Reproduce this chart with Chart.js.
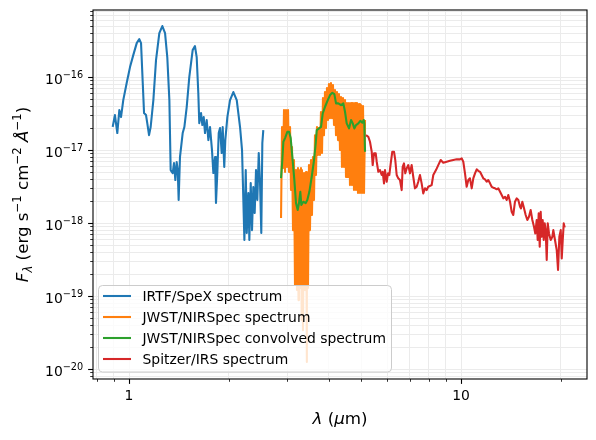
<!DOCTYPE html>
<html>
<head>
<meta charset="utf-8">
<script src="https://cdn.jsdelivr.net/npm/chart.js@4.4.1/dist/chart.umd.min.js"></script>
<style>
  html, body { margin: 0; padding: 0; background: #fff; }
  #wrap { width: 596px; height: 440px; }
</style>
</head>
<body>
<div id="wrap"><canvas id="spectrum" width="596" height="440"></canvas></div>
<script>
// IRTF/SpeX (micron, erg/s/cm2/A)
const spexWave = [
  0.893, 0.907, 0.922, 0.935, 0.946, 0.954, 0.961, 0.984, 1.007, 1.030,
  1.055, 1.074, 1.087, 1.100, 1.110, 1.125, 1.135, 1.149, 1.162, 1.184,
  1.206, 1.234, 1.260, 1.284, 1.304, 1.323, 1.335, 1.354, 1.366, 1.379,
  1.392, 1.402, 1.411, 1.424, 1.451, 1.468, 1.492, 1.519, 1.555, 1.580,
  1.599, 1.617, 1.628, 1.648, 1.663, 1.679, 1.694, 1.714, 1.734, 1.754,
  1.778, 1.795, 1.816, 1.828, 1.845, 1.863, 1.880, 1.902, 1.915, 1.936,
  1.950, 1.978, 2.015, 2.062, 2.111, 2.160, 2.190, 2.210, 2.226, 2.247,
  2.263, 2.288, 2.304, 2.326, 2.347, 2.368, 2.391, 2.413, 2.435, 2.459,
  2.481, 2.503, 2.521, 2.538
];
const spexFlux = [
  2.08e-17, 3.02e-17, 1.71e-17, 3.53e-17, 2.83e-17, 3.76e-17, 4.84e-17, 8.28e-17, 1.37e-16, 2.0e-16,
  2.92e-16, 3.32e-16, 2.92e-16, 8.28e-17, 3.21e-17, 3.02e-17, 2.34e-17, 1.60e-17, 2.07e-17, 4.84e-17,
  1.71e-16, 4.0e-16, 5.0e-16, 4.0e-16, 1.88e-16, 4.84e-17, 5.32e-18, 4.84e-18, 6.64e-18, 3.88e-18,
  6.85e-18, 5.32e-18, 2.07e-18, 8.0e-18, 1.71e-17, 2.07e-17, 3.88e-17, 1.0e-16, 2.34e-16, 2.66e-16,
  1.88e-16, 6.04e-17, 2.34e-17, 3.21e-17, 2.20e-17, 2.83e-17, 1.71e-17, 2.58e-17, 1.37e-17, 2.07e-17,
  1.0e-17, 4.84e-18, 8.0e-18, 1.88e-18, 4.84e-18, 1.71e-17, 2.0e-17, 9.1e-18, 2.07e-17, 5.85e-18,
  1.37e-17, 2.83e-17, 4.84e-17, 6.23e-17, 4.84e-17, 2.07e-17, 1.0e-17, 2.07e-18, 5.85e-19, 5.32e-18,
  7.3e-19, 2.58e-18, 5.85e-19, 3.53e-18, 8.0e-19, 3.11e-18, 1.37e-18, 5.32e-18, 2.07e-18, 9.1e-18,
  3.53e-18, 7.3e-19, 1.25e-17, 1.88e-17
];

// JWST/NIRSpec
const nirspecWave = [
  2.870, 2.890, 2.910, 2.930, 2.951, 2.971, 2.992, 3.013, 3.034, 3.055,
  3.076, 3.097, 3.119, 3.140, 3.162, 3.184, 3.206, 3.228, 3.239, 3.251,
  3.274, 3.296, 3.312, 3.319, 3.342, 3.366, 3.389, 3.413, 3.430, 3.436,
  3.460, 3.484, 3.508, 3.533, 3.557, 3.582, 3.607, 3.632, 3.657, 3.683,
  3.708, 3.734, 3.760, 3.786, 3.813, 3.839, 3.866, 3.893, 3.920, 3.947,
  3.975, 4.002, 4.030, 4.058, 4.087, 4.115, 4.144, 4.173, 4.202, 4.231,
  4.261, 4.290, 4.320, 4.350, 4.380, 4.411, 4.442, 4.473, 4.504, 4.535,
  4.567, 4.598, 4.630, 4.663, 4.695, 4.728, 4.761, 4.794, 4.827, 4.861,
  4.895, 4.929, 4.963, 4.998, 5.033, 5.068, 5.103, 5.139
];
const nirspecFlux = [
  1.17e-18, 2.07e-17, 5.67e-18, 3.53e-17, 5.0e-18, 3.53e-17, 5.85e-18, 3.53e-17, 5.0e-18, 2.07e-17,
  2.83e-18, 1.10e-17, 8.0e-19, 7.30e-18, 1.42e-19, 5.32e-18, 1.21e-19, 5.67e-18, 8.8e-20, 5.32e-18,
  1.29e-19, 5.67e-18, 4.7e-20, 5.32e-18, 3.4e-20, 4.84e-18, 1.21e-19, 5.0e-18, 1.25e-20, 4.84e-18,
  1.29e-19, 6.23e-18, 8.0e-19, 7.30e-18, 1.29e-18, 8.02e-18, 2.07e-18, 1.60e-17, 4.55e-18, 2.07e-17,
  8.54e-18, 2.0e-17, 8.54e-18, 3.31e-17, 9.1e-18, 5.16e-17, 1.60e-17, 6.23e-17, 2.0e-17, 7.07e-17,
  2.58e-17, 8.02e-17, 2.74e-17, 8.28e-17, 2.74e-17, 7.77e-17, 2.20e-17, 6.64e-17, 1.60e-17, 6.23e-17,
  1.37e-17, 5.85e-17, 1.0e-17, 5.32e-17, 5.85e-18, 5.16e-17, 5.85e-18, 4.84e-17, 4.27e-18, 4.40e-17,
  4.27e-18, 4.40e-17, 3.31e-18, 4.40e-17, 3.31e-18, 4.40e-17, 2.83e-18, 4.40e-17, 2.83e-18, 4.40e-17,
  2.58e-18, 4.27e-17, 2.58e-18, 4.13e-17, 2.58e-18, 4.01e-17, 2.58e-18, 2.58e-17
];

// JWST/NIRSpec convolved
const convWave = [
  2.870, 2.896, 2.917, 2.951, 2.998, 3.034, 3.069, 3.104, 3.148, 3.184,
  3.222, 3.251, 3.281, 3.304, 3.350, 3.406, 3.444, 3.493, 3.551, 3.608,
  3.651, 3.677, 3.736, 3.788, 3.833, 3.895, 3.969, 4.032, 4.097, 4.154,
  4.203, 4.270, 4.351, 4.421, 4.473, 4.526, 4.600, 4.665, 4.720, 4.772,
  4.829, 4.906, 4.975, 5.044, 5.093, 5.114, 5.139
];
const convFlux = [
  4.13e-18, 7.30e-18, 1.30e-17, 1.46e-17, 1.78e-17, 1.78e-17, 1.46e-17, 8.1e-18, 3.88e-18, 1.88e-18,
  1.51e-18, 1.88e-18, 2.68e-18, 1.77e-18, 1.96e-18, 1.88e-18, 2.07e-18, 2.68e-18, 4.31e-18, 7.30e-18,
  1.24e-17, 1.88e-17, 1.98e-17, 2.08e-17, 3.18e-17, 3.92e-17, 4.84e-17, 5.67e-17, 6.1e-17, 5.85e-17,
  4.36e-17, 4.36e-17, 4.13e-17, 4.36e-17, 3.35e-17, 2.32e-17, 1.98e-17, 2.58e-17, 2.32e-17, 1.98e-17,
  2.20e-17, 2.32e-17, 2.52e-17, 2.37e-17, 2.58e-17, 2.32e-17, 9.5e-18
];

// Spitzer/IRS
const irsWave = [
  5.175, 5.258, 5.319, 5.383, 5.420, 5.470, 5.535, 5.573, 5.635, 5.702,
  5.769, 5.810, 5.862, 5.903, 5.973, 6.027, 6.081, 6.142, 6.209, 6.283,
  6.339, 6.401, 6.472, 6.549, 6.627, 6.673, 6.733, 6.794, 6.860, 6.937,
  7.019, 7.102, 7.181, 7.266, 7.353, 7.434, 7.522, 7.611, 7.696, 7.788,
  7.880, 7.968, 8.158, 8.251, 8.406, 8.541, 8.686, 8.843, 9.053, 9.266,
  9.480, 9.706, 9.931, 10.05, 10.16, 10.28, 10.40, 10.52, 10.64, 10.77,
  10.89, 11.02, 11.15, 11.27, 11.41, 11.54, 11.67, 11.81, 11.95, 12.08,
  12.23, 12.37, 12.51, 12.66, 12.81, 12.95, 13.11, 13.26, 13.41, 13.57,
  13.73, 13.88, 14.05, 14.21, 14.37, 14.54, 14.72, 14.88, 15.06, 15.16,
  15.30, 15.48, 15.66, 15.84, 16.02, 16.21, 16.40, 16.59, 16.74, 16.90,
  17.02, 17.14, 17.26, 17.38, 17.50, 17.62, 17.75, 17.87, 17.99, 18.12,
  18.25, 18.41, 18.63, 18.84, 18.97, 19.19, 19.42, 19.60, 19.78, 19.97,
  20.11, 20.25, 20.39, 20.53
];
const irsFlux = [
  1.60e-17, 1.52e-17, 1.30e-17, 9.5e-18, 6.23e-18, 9.0e-18, 9.0e-18, 6.92e-18, 5.04e-18, 5.32e-18,
  4.55e-18, 5.04e-18, 3.50e-18, 5.32e-18, 3.68e-18, 4.80e-18, 4.55e-18, 6.57e-18, 9.5e-18, 9.5e-18,
  7.30e-18, 4.55e-18, 4.10e-18, 3.88e-18, 2.83e-18, 5.90e-18, 6.57e-18, 4.80e-18, 5.61e-18, 6.23e-18,
  4.80e-18, 6.23e-18, 4.31e-18, 2.99e-18, 3.14e-18, 3.68e-18, 4.55e-18, 3.50e-18, 2.55e-18, 2.99e-18,
  2.83e-18, 3.14e-18, 3.31e-18, 4.55e-18, 5.32e-18, 6.23e-18, 7.30e-18, 6.70e-18, 6.92e-18, 7.13e-18,
  7.30e-18, 7.46e-18, 7.46e-18, 7.69e-18, 6.92e-18, 4.80e-18, 3.14e-18, 3.88e-18, 4.10e-18, 2.99e-18,
  4.10e-18, 4.80e-18, 5.44e-18, 5.20e-18, 5.04e-18, 4.55e-18, 4.10e-18, 3.97e-18, 3.68e-18, 3.88e-18,
  3.50e-18, 3.14e-18, 3.05e-18, 2.99e-18, 2.90e-18, 2.99e-18, 2.68e-18, 2.42e-18, 2.18e-18, 2.29e-18,
  2.07e-18, 2.42e-18, 1.96e-18, 1.43e-18, 1.29e-18, 1.96e-18, 2.18e-18, 2.07e-18, 1.67e-18, 1.59e-18,
  1.96e-18, 1.59e-18, 1.29e-18, 1.10e-18, 1.22e-18, 1.51e-18, 1.10e-18, 8.9e-19, 7.2e-19, 1.10e-18,
  5.85e-19, 1.36e-18, 4.73e-19, 1.43e-18, 6.49e-19, 1.10e-18, 5.85e-19, 9.9e-19, 8.0e-19, 3.11e-19,
  9.9e-19, 7.2e-19, 5.85e-19, 6.49e-19, 8.0e-19, 5.85e-19, 4.27e-19, 2.27e-19, 6.49e-19, 8.0e-19,
  3.28e-19, 5.85e-19, 9.9e-19, 8.7e-19
];

const seriesLabels = [
  "IRTF/SpeX spectrum",
  "JWST/NIRSpec spectrum",
  "JWST/NIRSpec convolved spectrum",
  "Spitzer/IRS spectrum"
];
const seriesColors = ["#1f77b4", "#ff7f0e", "#2ca02c", "#d62728"];

// tick labels
const xMajorTicks = [1, 10];
const xTickLabels = ["1", "10"];
const yMajorTicks = [1e-20, 1e-19, 1e-18, 1e-17, 1e-16];
const yTickPowers = ["\u221220", "\u221219", "\u221218", "\u221217", "\u221216"];

const FONT = "'DejaVu Sans', sans-serif";

document.addEventListener("DOMContentLoaded", () => {
    const toPoints = (xs, ys) => xs.map((x, i) => ({ x: x, y: ys[i] }));

    // majors plus 2..9 minors within range
    const logTicks = (majors, min, max) => {
        const out = [];
        const d0 = Math.floor(Math.log10(min)), d1 = Math.ceil(Math.log10(max));
        for (let d = d0; d <= d1; d++) {
            for (let m = 1; m <= 9; m++) {
                const v = m * Math.pow(10, d);
                if (v >= min && v <= max) {
                    out.push({ value: v, major: m === 1 });
                }
            }
        }
        return out;
    };

    // mixed-size text (sub/superscripts)
    const drawRich = (ctx, parts, x, y, align) => {
        let w = 0;
        parts.forEach(p => {
            ctx.font = (p.i ? "italic " : "") + p.s + "px " + FONT;
            p.w = ctx.measureText(p.t).width;
            w += p.w;
        });
        let cx = align === "center" ? x - w / 2 : (align === "right" ? x - w : x);
        ctx.textAlign = "left";
        ctx.textBaseline = "alphabetic";
        parts.forEach(p => {
            ctx.font = (p.i ? "italic " : "") + p.s + "px " + FONT;
            ctx.fillText(p.t, cx, y + (p.dy || 0));
            cx += p.w;
        });
    };

    const L = 16.7, M = 13.9, S = 11.7, SS = 9.7;
    const LW = 2.08;

    const decorations = {
        id: "decorations",
        afterDraw(chart) {
            const ctx = chart.ctx;
            const a = chart.chartArea;
            const xs = chart.scales.x, ys = chart.scales.y;
            ctx.save();
            ctx.strokeStyle = "#000";
            ctx.fillStyle = "#000";

            // tick marks
            xs.ticks.forEach(t => {
                const px = Math.round(xs.getPixelForValue(t.value)) + 0.5;
                ctx.lineWidth = t.major ? 1.1 : 0.8;
                ctx.beginPath();
                ctx.moveTo(px, a.bottom);
                ctx.lineTo(px, a.bottom + (t.major ? 4.9 : 2.8));
                ctx.stroke();
            });
            ys.ticks.forEach(t => {
                const py = Math.round(ys.getPixelForValue(t.value)) + 0.5;
                ctx.lineWidth = t.major ? 1.1 : 0.8;
                ctx.beginPath();
                ctx.moveTo(a.left, py);
                ctx.lineTo(a.left - (t.major ? 4.9 : 2.8), py);
                ctx.stroke();
            });

            // spines
            ctx.lineWidth = 1.1;
            ctx.strokeRect(a.left, a.top, a.right - a.left, a.bottom - a.top);

            // y tick labels
            yMajorTicks.forEach((v, i) => {
                const py = ys.getPixelForValue(v);
                drawRich(ctx, [
                    { t: "10", s: M },
                    { t: yTickPowers[i], s: SS, dy: -6 }
                ], a.left - 9.8, py + 7, "right");
            });

            // axis titles
            const midX = (a.left + a.right) / 2;
            drawRich(ctx, [
                { t: "\u03bb", s: L, i: true },
                { t: " (", s: L },
                { t: "\u03bc", s: L, i: true },
                { t: "m)", s: L }
            ], midX, 424, "center");

            ctx.save();
            ctx.translate(28, (a.top + a.bottom) / 2);
            ctx.rotate(-Math.PI / 2);
            drawRich(ctx, [
                { t: "F", s: L, i: true },
                { t: "\u03bb", s: S, i: true, dy: 3.5 },
                { t: " (erg s", s: L },
                { t: "\u22121", s: S, dy: -7 },
                { t: " cm", s: L },
                { t: "\u22122", s: S, dy: -7 },
                { t: " ", s: L },
                { t: "\u00c5", s: L, i: true },
                { t: "\u22121", s: S, dy: -7 },
                { t: ")", s: L }
            ], 0, 0, "center");
            ctx.restore();

            // legend, drawn over the data
            const lx = 98.5, ly = 285.5, lw = 293, lh = 86.5;
            ctx.beginPath();
            ctx.roundRect(lx, ly, lw, lh, 4);
            ctx.fillStyle = "rgba(255,255,255,0.8)";
            ctx.fill();
            ctx.strokeStyle = "#cccccc";
            ctx.lineWidth = 1;
            ctx.stroke();
            chart.data.datasets.forEach((ds, i) => {
                const ry = 296 + i * 21;
                ctx.strokeStyle = ds.borderColor;
                ctx.lineWidth = LW;
                ctx.beginPath();
                ctx.moveTo(103, ry);
                ctx.lineTo(131, ry);
                ctx.stroke();
                ctx.fillStyle = "#000";
                ctx.font = M + "px " + FONT;
                ctx.textAlign = "left";
                ctx.textBaseline = "middle";
                ctx.fillText(ds.label, 142.5, ry + 1);
            });
            ctx.restore();
        }
    };

    const lineStyle = {
        borderWidth: LW,
        pointRadius: 0,
        tension: 0,
        fill: false,
        borderJoinStyle: "round"
    };

    const ctx = document.getElementById("spectrum").getContext("2d");
    new Chart(ctx, {
        type: "line",
        data: {
            datasets: [
                { ...lineStyle, label: seriesLabels[0], data: toPoints(spexWave, spexFlux), borderColor: seriesColors[0], order: 4 },
                { ...lineStyle, label: seriesLabels[1], data: toPoints(nirspecWave, nirspecFlux), borderColor: seriesColors[1], order: 3 },
                { ...lineStyle, label: seriesLabels[2], data: toPoints(convWave, convFlux), borderColor: seriesColors[2], order: 2 },
                { ...lineStyle, label: seriesLabels[3], data: toPoints(irsWave, irsFlux), borderColor: seriesColors[3], order: 1 }
            ]
        },
        options: {
            responsive: false,
            animation: false,
            devicePixelRatio: 1,
            layout: { padding: { left: 0, right: 9, top: 10, bottom: 0 } },
            plugins: {
                legend: { display: false },
                tooltip: { enabled: false }
            },
            scales: {
                x: {
                    type: "logarithmic",
                    min: 0.779,
                    max: 23.96,
                    afterBuildTicks: s => { s.ticks = logTicks(xMajorTicks, 0.779, 23.96); },
                    afterFit: s => { s.height = 61; },
                    grid: { color: "#ebebeb", drawTicks: false },
                    border: { display: false },
                    ticks: {
                        autoSkip: false,
                        maxRotation: 0,
                        padding: 9,
                        color: "#000",
                        font: { family: FONT, size: M },
                        callback: v => {
                            const k = xMajorTicks.findIndex(m => Math.abs(m - v) < 1e-9);
                            return k >= 0 ? xTickLabels[k] : "";
                        }
                    }
                },
                y: {
                    type: "logarithmic",
                    min: 7.3e-21,
                    max: 8.3e-16,
                    afterBuildTicks: s => { s.ticks = logTicks(yMajorTicks, 7.3e-21, 8.3e-16); },
                    afterFit: s => { s.width = 93; },
                    grid: { color: "#ebebeb", drawTicks: false },
                    border: { display: false },
                    ticks: { display: false }
                }
            }
        },
        plugins: [decorations]
    });
});
</script>
</body>
</html>
